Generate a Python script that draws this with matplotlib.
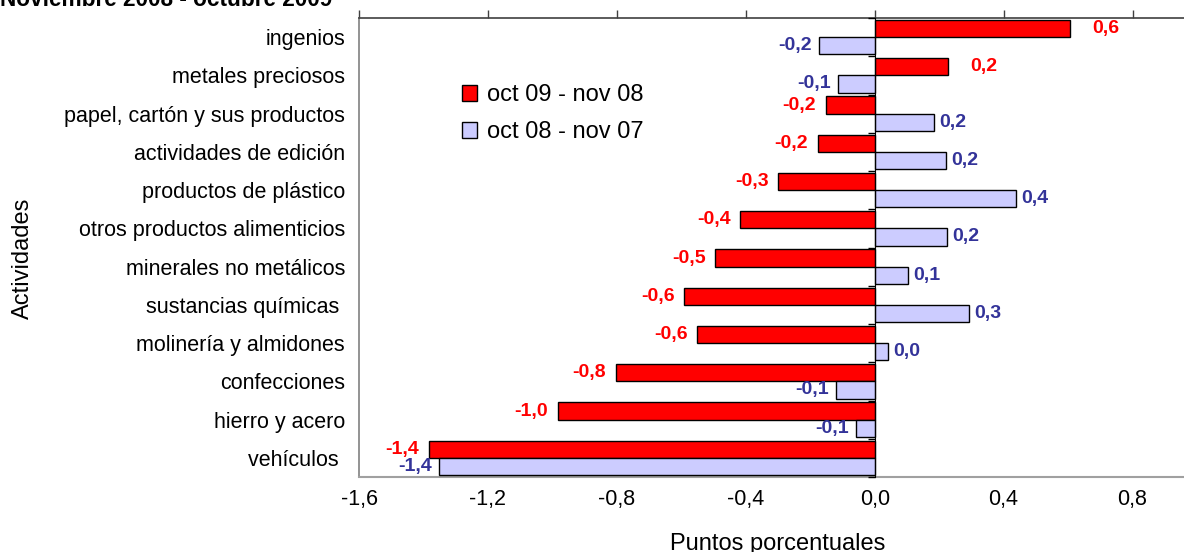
import matplotlib
matplotlib.use("Agg")
import matplotlib.pyplot as plt
import numpy as np

plt.rcParams['font.family'] = ['Liberation Sans', 'DejaVu Sans']

categories = ["ingenios", "metales preciosos", "papel, cartón y sus productos",
              "actividades de edición", "productos de plástico",
              "otros productos alimenticios", "minerales no metálicos",
              "sustancias químicas ", "molinería y almidones", "confecciones",
              "hierro y acero", "vehículos "]
oct09_nov08 = [0.607, 0.227, -0.152, -0.177, -0.299, -0.417, -0.495, -0.591, -0.551, -0.803, -0.983, -1.384]
oct08_nov07 = [-0.174, -0.115, 0.184, 0.221, 0.439, 0.224, 0.103, 0.292, 0.040, -0.121, -0.059, -1.353]
series_names = ["oct 09 - nov 08", "oct 08 - nov 07"]
xticks = [-1.6, -1.2, -0.8, -0.4, 0.0, 0.4, 0.8]
title = "Noviembre 2008 - octubre 2009"

W, H = 1184, 552
fig = plt.figure(figsize=(W / 100, H / 100), dpi=100)
ax_left, ax_right, ax_top, ax_bot = 359, 1197, 18, 477
ax = fig.add_axes([ax_left / W, 1 - ax_bot / H, (ax_right - ax_left) / W, (ax_bot - ax_top) / H])

y = np.arange(len(categories))
h = 0.45
red_c, blue_c = "#FF0000", "#CCCCFF"
ax.barh(y - h / 2, oct09_nov08, height=h, color=red_c, edgecolor="black", linewidth=1.0,
        label=series_names[0], zorder=3)
ax.barh(y + h / 2, oct08_nov07, height=h, color=blue_c, edgecolor="black", linewidth=1.0,
        label=series_names[1], zorder=3)

def fmt(v):
    s = f"{v:.1f}".replace(".", ",")
    if s == "-0,0":
        s = "0,0"
    return s

lab_fs = 14
for yi, v in zip(y - h / 2, oct09_nov08):
    if v >= 0:
        ax.annotate(fmt(v), (v, yi), xytext=(16, 0), textcoords="offset points",
                    ha="left", va="center", color=red_c, fontsize=lab_fs, fontweight="bold")
    else:
        ax.annotate(fmt(v), (v, yi), xytext=(-7, 0), textcoords="offset points",
                    ha="right", va="center", color=red_c, fontsize=lab_fs, fontweight="bold")
for yi, v in zip(y + h / 2, oct08_nov07):
    if v >= 0:
        ax.annotate(fmt(v), (v, yi), xytext=(4, 0), textcoords="offset points",
                    ha="left", va="center", color="#333399", fontsize=lab_fs, fontweight="bold")
    else:
        ax.annotate(fmt(v), (v, yi), xytext=(-5, 0), textcoords="offset points",
                    ha="right", va="center", color="#333399", fontsize=lab_fs, fontweight="bold")

ax.set_xlim(-1.6, 1.0)
ax.set_ylim(len(categories) - 0.5, -0.5)
ax.set_xticks(xticks)
ax.set_xticklabels([fmt(t) for t in xticks])
ax.tick_params(axis="x", top=True, bottom=False, labeltop=False, labelbottom=True,
               direction="out", length=6, width=1, color="#404040", labelsize=15.5, pad=3)
ax.set_yticks(y)
ax.set_yticklabels(categories)
ax.tick_params(axis="y", length=0, pad=10, labelsize=15.5)

ax.spines["top"].set_color("#404040")
ax.spines["top"].set_linewidth(1.2)
ax.spines["left"].set_color("#808080")
ax.spines["left"].set_linewidth(1.2)
ax.spines["bottom"].set_color("#A0A0A0")
ax.spines["bottom"].set_linewidth(1.5)
ax.spines["right"].set_visible(False)

# category axis crossing at zero, with tick marks between categories
zero_pos = (0 - ax.get_xlim()[0]) / (ax.get_xlim()[1] - ax.get_xlim()[0])
sec = ax.secondary_yaxis(zero_pos)
sec.set_yticks(np.arange(-0.5, len(categories), 1.0))
sec.set_yticklabels([])
sec.yaxis.set_ticks_position("left")
sec.tick_params(axis="y", direction="out", length=5, width=1, color="black")
sec.spines["left"].set_color("black")
sec.spines["left"].set_linewidth(1.0)
sec.set_zorder(5)

ax.set_xlabel("Puntos porcentuales", fontsize=17, labelpad=16)
ax.set_ylabel("Actividades", fontsize=17)
ax.yaxis.set_label_coords((34 - ax_left) / (ax_right - ax_left), 1 - (258 - ax_top) / (ax_bot - ax_top))

ax.legend(loc="upper left",
          bbox_to_anchor=((462 - ax_left) / (ax_right - ax_left), 1 - (84 - ax_top) / (ax_bot - ax_top)),
          frameon=False, fontsize=17, handlelength=0.65, handleheight=0.65,
          handletextpad=0.4, labelspacing=0.65, borderaxespad=0, borderpad=0)

fig.text(0.0, 1 - 6 / H, title, fontsize=16.3, fontweight="bold", ha="left", va="baseline")

fig.savefig("out.png", dpi=100)
